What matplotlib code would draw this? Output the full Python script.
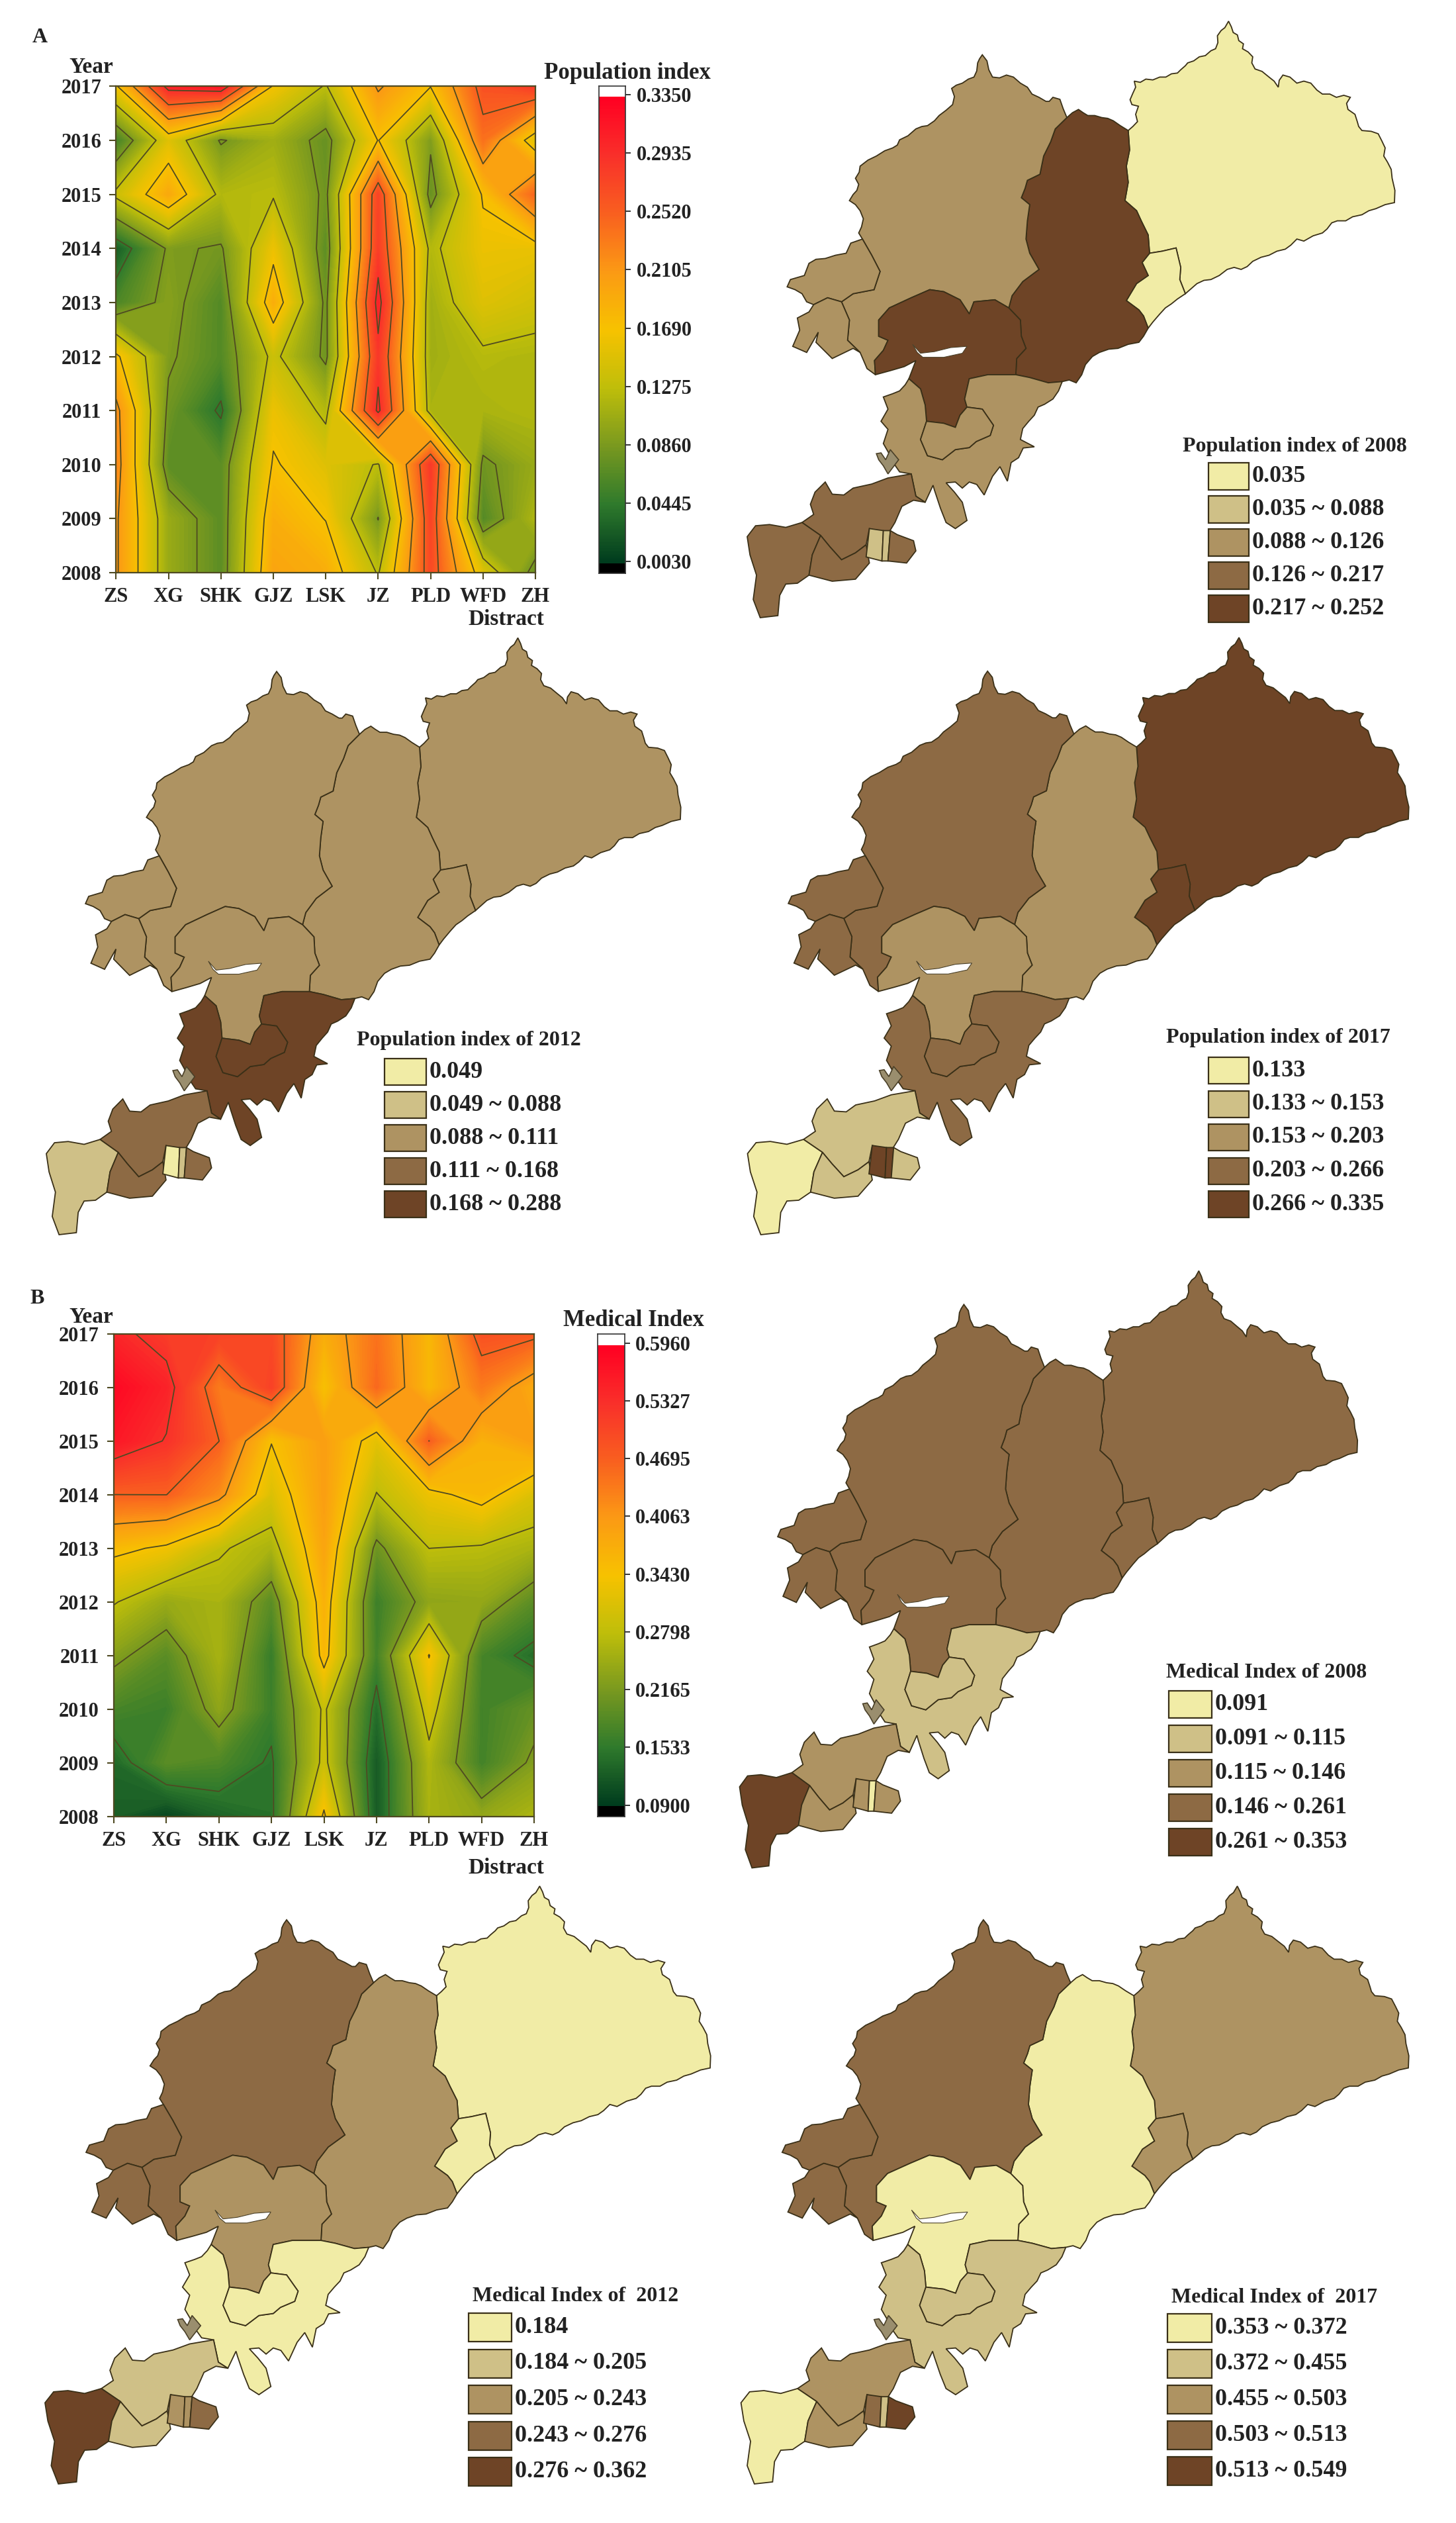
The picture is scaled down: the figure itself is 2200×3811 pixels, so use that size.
import numpy as np
import matplotlib
matplotlib.use("Agg")
import matplotlib.pyplot as plt
from matplotlib.colors import LinearSegmentedColormap, Normalize
from matplotlib.patches import Polygon, Rectangle

plt.rcParams['font.family'] = ['Liberation Serif', 'DejaVu Serif']
plt.rcParams['font.weight'] = 'bold'

W, H = 2200, 3811

# heatmap data
districts = ['ZS', 'XG', 'SHK', 'GJZ', 'LSK', 'JZ', 'PLD', 'WFD', 'ZH']
years = [2008, 2009, 2010, 2011, 2012, 2013, 2014, 2015, 2016, 2017]

population = [
    [.215, .105, .070, .200, .190, .125, .270, .150, .075],
    [.215, .105, .070, .190, .168, .085, .275, .065, .118],
    [.225, .070, .070, .172, .150, .125, .285, .080, .105],
    [.220, .080, .040, .160, .120, .300, .115, .115, .120],
    [.175, .090, .065, .135, .080, .285, .110, .122, .118],
    [.060, .095, .065, .190, .080, .305, .110, .150, .140],
    [.025, .090, .083, .160, .070, .280, .120, .160, .158],
    [.135, .195, .120, .125, .080, .275, .075, .172, .248],
    [.055, .150, .083, .110, .075, .170, .090, .240, .150],
    [.165, .305, .315, .165, .125, .215, .170, .265, .285],
]
medical = [
    [.125, .100, .130, .145, .350, .120, .260, .240, .265],
    [.135, .190, .180, .148, .292, .120, .265, .170, .225],
    [.175, .165, .235, .165, .287, .140, .300, .170, .200],
    [.228, .190, .260, .160, .360, .170, .345, .175, .140],
    [.283, .245, .260, .190, .370, .165, .235, .240, .190],
    [.355, .335, .285, .260, .390, .205, .280, .275, .260],
    [.4695, .470, .420, .310, .400, .278, .330, .360, .310],
    [.565, .530, .470, .345, .400, .320, .470, .370, .400],
    [.585, .550, .440, .510, .345, .460, .360, .440, .380],
    [.545, .515, .510, .500, .375, .450, .360, .490, .480],
]
pop_ticks = [.0030, .0445, .0860, .1275, .1690, .2105, .2520, .2935, .3350]
med_ticks = [.0900, .1533, .2165, .2798, .3430, .4063, .4695, .5327, .5960]

# class of every district on each map (0 lightest .. 4 darkest)
map_names = ['ZH', 'Z2', 'PLD', 'WFD', 'W1', 'W2', 'JZ', 'S1', 'S2', 'P1', 'P2', 'P3', 'P4', 'ST', 'P5']
pop_2008 = [0, 0, 4, 2, 2, 2, 4, 2, 2, 3, 3, 3, 1, 1, 3]
pop_2012 = [2, 2, 2, 2, 2, 2, 2, 4, 4, 3, 1, 3, 0, 1, 3]
pop_2017 = [4, 4, 2, 3, 3, 3, 2, 3, 3, 1, 0, 1, 4, 4, 1]
med_2008 = [3, 3, 3, 3, 3, 3, 3, 1, 1, 2, 4, 2, 2, 0, 2]
med_2012 = [0, 0, 2, 3, 3, 3, 2, 0, 0, 1, 4, 1, 2, 2, 3]
med_2017 = [2, 2, 0, 3, 3, 3, 0, 1, 1, 2, 0, 2, 3, 1, 4]

leg_pop_2008 = ['0.035', '0.035 ~ 0.088', '0.088 ~ 0.126', '0.126 ~ 0.217', '0.217 ~ 0.252']
leg_pop_2012 = ['0.049', '0.049 ~ 0.088', '0.088 ~ 0.111', '0.111 ~ 0.168', '0.168 ~ 0.288']
leg_pop_2017 = ['0.133', '0.133 ~ 0.153', '0.153 ~ 0.203', '0.203 ~ 0.266', '0.266 ~ 0.335']
leg_med_2008 = ['0.091', '0.091 ~ 0.115', '0.115 ~ 0.146', '0.146 ~ 0.261', '0.261 ~ 0.353']
leg_med_2012 = ['0.184', '0.184 ~ 0.205', '0.205 ~ 0.243', '0.243 ~ 0.276', '0.276 ~ 0.362']
leg_med_2017 = ['0.353 ~ 0.372', '0.372 ~ 0.455', '0.455 ~ 0.503', '0.503 ~ 0.513', '0.513 ~ 0.549']

browns = ['#F1ECA6', '#CFC087', '#AE9362', '#8D6A44', '#6E4426']

# map outlines (shared borders kept as segments)
zh_outer = [(862,322),(872,312),(882,300),(878,282),(884,262),(870,258),(866,246),(872,230),(878,215),(875,200),
            (888,203),(900,195),(915,197),(930,190),(943,190),(955,182),(968,180),(975,172),(985,162),(990,155),
            (1003,150),(1015,140),(1028,137),(1040,125),(1050,120),(1055,105),(1054,88),(1062,75),(1070,68),(1078,52),
            (1084,66),(1088,80),(1097,86),(1100,100),(1110,108),(1108,120),(1120,128),(1130,140),(1128,155),(1135,170),
            (1150,176),(1165,190),(1176,200),(1185,215),(1187,198),(1195,185),(1210,190),(1225,205),(1240,200),(1255,205),
            (1268,222),(1280,232),(1296,232),(1310,240),(1326,235),(1340,240),(1332,255),(1335,270),(1350,282),(1355,300),
            (1358,312),(1365,322),(1385,324),(1400,330),(1408,348),(1415,365),(1412,385),(1420,400),(1428,418),(1430,440),
            (1436,470),(1435,500),(1415,505),(1395,515),(1380,520),(1365,530),(1345,535),(1330,545),(1312,545),(1300,550),
            (1290,565),(1280,575),(1260,582),(1240,595),(1225,590),(1212,605),(1200,615),(1182,620),(1165,630),(1148,635),
            (1130,645),(1118,658),(1105,665),(1090,660),(1075,665),(1058,680),(1040,690),(1025,692),(1010,700),(998,712),(985,725)]
pld_zh = [(862,322),(865,370),(858,410),(862,450),(855,495),(880,520),(890,545),(905,580),(908,625)]
z2_zh = [(908,625),(935,620),(965,612),(975,660),(973,690),(985,725)]
z2_pld = [(908,625),(892,648),(905,680),(880,700),(858,742),(885,765),(895,780),(905,810)]
z2_coast = [(985,725),(968,738),(955,750),(942,760),(930,775),(915,795),(905,810)]
pld_top = [(730,290),(742,278),(755,270),(765,278),(775,285),(790,285),(805,290),(818,292),(830,298),(845,310),(862,322)]
wfd_pld = [(730,290),(705,318),(695,350),(680,385),(672,430),(645,445),(640,465),(632,488),(650,505),(645,545),
           (642,590),(650,625),(670,665),(635,695),(612,730),(605,760)]
jz_pld = [(605,760),(630,790),(632,830),(642,860),(622,885),(620,925)]
pld_coast = [(905,810),(895,830),(885,845),(862,850),(840,860),(820,862),(800,870),(785,880),(770,900),(762,925),
             (750,945),(735,938),(720,942)]
s1_pld = [(620,925),(650,932),(690,945),(720,942)]
wfd_outer = [(730,290),(722,268),(715,245),(700,240),(692,250),(685,250),(670,240),(655,232),(645,215),(630,205),
             (615,190),(600,185),(585,192),(570,190),(562,172),(558,150),(548,135),(542,145),(538,155),(536,175),
             (530,190),(518,195),(505,205),(492,210),(482,218),(488,238),(484,258),(470,272),(455,285),(445,298),
             (430,310),(418,312),(405,318),(388,335),(370,345),(365,358),(355,365),(338,372),(320,385),(302,395),
             (285,410),(283,425),(275,440),(282,455),(278,470),(270,480),(262,495),(275,505),(285,520),(292,540),
             (288,560),(282,575),(290,590)]
wfd_w1 = [(290,590),(310,630),(328,670),(315,715),(270,725),(245,745)]
wfd_w2 = [(245,745),(262,790),(258,840),(285,870)]
wfd_low = [(285,870),(300,910),(318,925)]
wfd_jz = [(318,925),(316,890),(335,865),(345,840),(325,830),(325,790),(348,760),(395,735),(435,715),(465,720),
          (500,740),(520,775),(530,745),(575,740),(605,760)]
jz_coast = [(318,925),(350,915),(380,905),(405,890),(390,935)]
jz_s1 = [(390,935),(415,960),(425,1000),(428,1040)]
s2_top = [(428,1040),(465,1045),(490,1055),(500,1025),(515,1005)]
jz_s1b = [(515,1005),(510,985),(520,935),(560,925),(620,925)]
s2_rest = [(515,1005),(548,1010),(572,1050),(565,1075),(535,1090),(520,1105),(490,1110),(462,1135),(430,1125),
           (415,1085),(428,1040)]
s1_coast = [(720,942),(712,965),(700,985),(682,998),(668,1005),(660,1025),(648,1040),(635,1058),(630,1085),(660,1103),
            (636,1106),(626,1130),(610,1142),(602,1188),(586,1152),(570,1176),(552,1222),(536,1196),(520,1190),(505,1205),
            (490,1190),(470,1192),(488,1215),(505,1240),(515,1285),(490,1305),(470,1290),(458,1255),(445,1210),(442,1198),
            (425,1240),(405,1225),(395,1170),(370,1165),(358,1145),(345,1115),(335,1095),(345,1060),(330,1040),(345,1010),
            (335,980),(355,972),(370,965),(382,950),(390,935)]
w1_outer = [(290,590),(265,600),(255,625),(232,630),(210,638),(190,640),(175,650),(165,680),(135,690),(128,708),
            (145,715),(160,725),(170,745),(185,752),(215,735),(245,745)]
w2_outer = [(245,745),(215,735),(185,752),(175,770),(150,785),(155,815),(140,855),(170,870),(195,820),(190,845),
            (225,885),(270,860),(285,870)]
p1 = [(395,1170),(405,1225),(425,1240),(400,1235),(375,1250),(360,1290),(345,1318),(305,1305),(298,1345),(275,1365),
      (245,1382),(220,1350),(200,1322),(160,1290),(185,1270),(178,1245),(188,1215),(210,1190),(225,1220),(250,1222),
      (270,1205),(310,1195),(345,1180)]
p2 = [(160,1290),(200,1322),(182,1370),(175,1420),(150,1440),(125,1442),(112,1470),(108,1520),(70,1525),(55,1480),
      (62,1420),(48,1370),(42,1325),(60,1298),(90,1295),(125,1302)]
p3 = [(200,1322),(220,1350),(245,1382),(275,1365),(298,1345),(305,1390),(275,1430),(225,1435),(175,1420),(182,1370)]
p4 = [(305,1305),(335,1310),(332,1385),(298,1375)]
st = [(335,1310),(350,1310),(345,1385),(332,1385)]
p5 = [(350,1310),(365,1320),(400,1335),(405,1360),(385,1390),(345,1385)]
islet = [(320,1120),(330,1118),(340,1135),(350,1110),(368,1135),(345,1170),(335,1150),(325,1135)]
lagoon = [(398,850),(415,872),(445,868),(480,858),(515,855),(505,872),(465,882),(420,882),(408,870)]


def rev(seg):
    return seg[::-1]


shapes = {
    'ZH': zh_outer + rev(z2_zh) + rev(pld_zh),
    'Z2': z2_zh + z2_coast + rev(z2_pld),
    'PLD': pld_top + pld_zh + z2_pld + pld_coast + rev(s1_pld) + rev(jz_pld) + rev(wfd_pld),
    'WFD': wfd_outer + wfd_w1 + wfd_w2 + wfd_low + wfd_jz + rev(wfd_pld),
    'W1': w1_outer + rev(wfd_w1),
    'W2': w2_outer + rev(wfd_w2),
    'JZ': wfd_jz + jz_pld + rev(jz_s1b) + rev(s2_top) + rev(jz_s1) + rev(jz_coast),
    'S1': jz_s1 + rev(s2_rest) + jz_s1b + s1_pld + s1_coast,
    'S2': s2_top + s2_rest,
    'P1': p1, 'P2': p2, 'P3': p3, 'P4': p4, 'ST': st, 'P5': p5,
}

heat_cmap = LinearSegmentedColormap.from_list('heat', [
    (0.000, '#003C1E'), (0.125, '#2F7A2C'), (0.250, '#79991F'), (0.375, '#BFBE0A'),
    (0.500, '#F7C200'), (0.625, '#FB9A14'), (0.750, '#F9601F'), (0.875, '#F9302A'),
    (1.000, '#FF0022')])

line_color = '#4F4A22'
fig = plt.figure(figsize=(W / 100, H / 100), dpi=100, facecolor='white')


def eixo(x0, y0, x1, y1):
    return fig.add_axes([x0 / W, 1 - y1 / H, (x1 - x0) / W, (y1 - y0) / H])


def heatmap(rect, values, ticks):
    ax = eixo(*rect)
    z = np.array(values)
    x = np.arange(len(districts))
    norm = Normalize(ticks[0], ticks[-1])
    cs = ax.contourf(x, years, z, levels=np.linspace(ticks[0], ticks[-1], 120), cmap=heat_cmap, norm=norm, extend='both')
    cs.set_edgecolor('face')
    cs.set_linewidth(0.3)
    ax.contour(x, years, z, levels=ticks[1:-1], colors=line_color, linewidths=1.3)
    ax.set_xticks(x)
    ax.set_xticklabels(districts, fontsize=22, color='#222222')
    ax.set_yticks(years)
    ax.set_yticklabels(years, fontsize=22, color='#222222')
    ax.tick_params(length=7, width=1.5, color=line_color, pad=9)
    for s in ax.spines.values():
        s.set_color(line_color)
        s.set_linewidth(1.6)


def colorbar(rect, white_end, black_start, tick_top, tick_bot, ticks):
    ax = eixo(*rect)
    scale = (tick_bot - tick_top) / (ticks[-1] - ticks[0])
    hi = ticks[-1] + (tick_top - rect[1]) / scale
    lo = ticks[0] - (rect[3] - tick_bot) / scale
    w_val = ticks[-1] + (tick_top - white_end) / scale
    b_val = ticks[0] - (black_start - tick_bot) / scale
    grad = np.linspace(ticks[0], ticks[-1], 400)
    ax.pcolormesh([0, 1], np.linspace(b_val, w_val, 401), grad[:, None], cmap=heat_cmap,
                  norm=Normalize(ticks[0], ticks[-1]))
    ax.add_patch(Rectangle((0, w_val), 1, hi - w_val, fc='white', ec='none'))
    ax.add_patch(Rectangle((0, lo), 1, b_val - lo, fc='black', ec='none'))
    ax.set_xlim(0, 1)
    ax.set_ylim(lo, hi)
    ax.set_xticks([])
    ax.yaxis.tick_right()
    ax.set_yticks(ticks)
    ax.set_yticklabels(['%.4f' % t for t in ticks], fontsize=22, color='#222222')
    ax.tick_params(length=6, width=1.4, color='#333333', pad=6)
    for s in ax.spines.values():
        s.set_color('#333333')
        s.set_linewidth(1.2)


def mapa(rect, classes):
    ax = eixo(*rect)
    for name, c in zip(map_names, classes):
        ax.add_patch(Polygon(shapes[name], closed=True, fc=browns[c], ec='#3A3018', lw=1.3, clip_on=False))
    ax.add_patch(Polygon(islet, closed=True, fc='#9A8E6E', ec='#4A4028', lw=1.2, clip_on=False))
    ax.add_patch(Polygon(lagoon, closed=True, fc='white', ec='#4A4028', lw=0.8, clip_on=False))
    ax.set_xlim(42, 1435)
    ax.set_ylim(1525, 52)
    ax.axis('off')


# heatmaps and their colour bars
heatmap((175.4, 130.4, 809, 865), population, pop_ticks)
colorbar((905, 130, 945, 866), 146, 851, 143, 848, pop_ticks)
heatmap((172, 2014.5, 807, 2743.7), medical, med_ticks)
colorbar((903, 2015, 943.5, 2744), 2032, 2728, 2028.6, 2726.6, med_ticks)

# choropleth maps
mapa((1129, 32, 2107, 933), pop_2008)
mapa((70, 963.5, 1028, 1865), pop_2012)
mapa((1129.5, 963, 2128, 1865), pop_2017)
mapa((1117.5, 1919.6, 2050.5, 2821.5), med_2008)
mapa((68, 2849, 1073, 3752), med_2012)
mapa((1119.6, 2849, 2128, 3752), med_2017)

# overlay in picture pixels for panel letters, titles and map legends
top = eixo(0, 0, W, H)
top.set_xlim(0, W)
top.set_ylim(H, 0)
top.axis('off')
top.patch.set_visible(False)


def label(x, y, s, size=22, ha='center'):
    top.text(x, y, s, fontsize=size, ha=ha, va='center', color='#222222')


label(60, 56, 'A', 23)
label(56, 1961, 'B', 23)
label(138, 101, 'Year', 24)
label(138, 1989, 'Year', 24)
label(765, 935, 'Distract', 24)
label(765, 2822, 'Distract', 24)
label(948, 110, 'Population index', 25)
label(957, 1994, 'Medical Index', 25)


def legenda(title, tx, ty, x0, x1, y0, h, step, labels):
    label(tx, ty, title, 23)
    for i, s in enumerate(labels):
        y = y0 + i * step
        top.add_patch(Rectangle((x0, y), x1 - x0, h, fc=browns[i], ec='#3A3018', lw=1.6))
        label(x1 + 5, y + h / 2, s, 26, ha='left')


legenda('Population index of 2008', 1956, 674, 1826, 1887, 699, 41, 50, leg_pop_2008)
legenda('Population index of 2012', 708, 1571, 581, 644, 1599, 40, 50, leg_pop_2012)
legenda('Population index of 2017', 1931, 1568, 1826, 1887, 1597, 40, 50.5, leg_pop_2017)
legenda('Medical Index of 2008', 1914, 2526, 1766, 1831, 2554, 41, 52, leg_med_2008)
legenda('Medical Index of  2012', 870, 3469, 708, 773, 3494, 43, 54.5, leg_med_2012)
legenda('Medical Index of  2017', 1926, 3471, 1764, 1831, 3495, 43, 54, leg_med_2017)

fig.savefig('out.png', dpi=100)
